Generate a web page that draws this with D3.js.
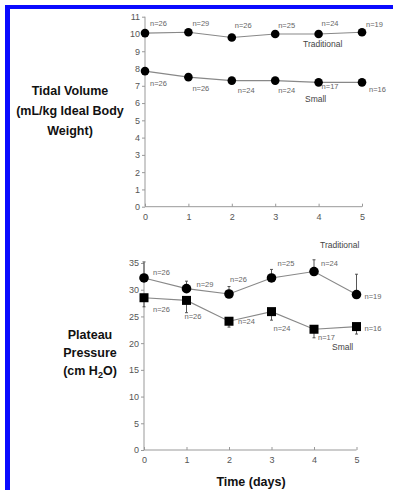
<!DOCTYPE html>
<html>
<head>
<meta charset="utf-8">
<script src="https://cdn.jsdelivr.net/npm/d3@7"></script>
<style>
  body { margin: 0; background: #fff; }
  svg { display: block; font-family: Arial, "Liberation Sans", sans-serif; }
  .tick text { fill: #555; font-size: 9px; }
  .axis path, .axis line { stroke: #999; }
  .series { fill: none; stroke: #888; stroke-width: 1.1; }
  .nlab { fill: #666; font-size: 7.5px; }
  .grp { fill: #444; font-size: 8.5px; }
  .title { fill: #111; font-size: 12.5px; font-weight: bold; }
</style>
</head>
<body>
<div id="chart"></div>
<script>
// --- data ---
const days = [0, 1, 2, 3, 4, 5];

const tvTraditional = [10.05, 10.1, 9.8, 10.0, 10.0, 10.1];
const tvSmall = [7.85, 7.5, 7.3, 7.3, 7.2, 7.2];

const ppTraditional = [32.2, 30.2, 29.2, 32.2, 33.4, 29.1];
const ppTraditionalErr = [3.0, 1.4, 1.4, 1.6, 2.2, 3.8];
const ppSmall = [28.5, 28.0, 24.1, 25.9, 22.6, 23.1];
const ppSmallErr = [1.7, 2.3, 1.1, 1.6, 1.6, 1.4];

const nTraditional = ["n=26", "n=29", "n=26", "n=25", "n=24", "n=19"];
const nSmall = ["n=26", "n=26", "n=24", "n=24", "n=17", "n=16"];

const tvTicks = [0, 1, 2, 3, 4, 5, 6, 7, 8, 9, 10, 11];
const ppTicks = [0, 5, 10, 15, 20, 25, 30, 35];

// label nudges [dx, dy] relative to each point
const tvTradOff = [[5, -10], [4, -9], [3, -12], [3, -9], [3, -11], [4, -8]];
const tvSmallOff = [[5, 12], [4, 11], [6, 10], [3, 10], [3, 4], [7, 7]];
const ppTradOff = [[9, -6], [10, -4], [1, -15], [6, -15], [7, -8], [8, 2]];
const ppSmallOff = [[9, 12], [-2, 16], [9, 0], [2, 17], [4, 8], [8, 2]];

const W = 393, H = 491;

const svg = d3.select("#chart").append("svg")
  .attr("width", W)
  .attr("height", H);

// blue frame (top + left)
svg.append("rect").attr("x", 5).attr("y", 5).attr("width", W - 5).attr("height", 4).attr("fill", "#0a0aff");
svg.append("rect").attr("x", 5).attr("y", 5).attr("width", 5).attr("height", 485).attr("fill", "#0a0aff");

function panel(opt) {
  const x = d3.scaleLinear().domain([0, 5]).range(opt.xr);
  const y = d3.scaleLinear().domain(opt.yd).range(opt.yr);
  const g = svg.append("g");

  g.append("g")
    .attr("class", "axis")
    .attr("transform", `translate(0,${opt.yr[0]})`)
    .call(d3.axisBottom(x).tickValues(days).tickFormat(d3.format("d")).tickSize(-3).tickPadding(7))
    .call(a => a.select(".domain").attr("d", `M${opt.xr[0]},0H${opt.xr[1]}`));

  g.append("g")
    .attr("class", "axis")
    .attr("transform", `translate(${opt.xr[0]},0)`)
    .call(d3.axisLeft(y).tickValues(opt.ticks).tickFormat(d3.format("d")).tickSize(3).tickPadding(2))
    .call(a => a.select(".domain").attr("d", `M0,${opt.yr[0]}V${opt.yr[1]}`));

  const line = d3.line().x((d, i) => x(days[i])).y(d => y(d));

  opt.series.forEach(s => {
    if (s.err) {
      g.selectAll(null).data(s.vals).enter().append("line")
        .attr("x1", (d, i) => x(days[i])).attr("x2", (d, i) => x(days[i]))
        .attr("y1", d => y(d))
        .attr("y2", (d, i) => y(d + s.dir * s.err[i]))
        .attr("stroke", "#444").attr("stroke-width", 0.9);
      g.selectAll(null).data(s.vals).enter().append("line")
        .attr("x1", (d, i) => x(days[i]) - 1.5).attr("x2", (d, i) => x(days[i]) + 1.5)
        .attr("y1", (d, i) => y(d + s.dir * s.err[i]))
        .attr("y2", (d, i) => y(d + s.dir * s.err[i]))
        .attr("stroke", "#444").attr("stroke-width", 0.9);
    }

    g.append("path").datum(s.vals).attr("class", "series").attr("d", line);

    if (s.shape === "square") {
      g.selectAll(null).data(s.vals).enter().append("rect")
        .attr("x", (d, i) => x(days[i]) - 4.5)
        .attr("y", d => y(d) - 4.5)
        .attr("width", 9).attr("height", 9)
        .attr("fill", "#000");
    } else {
      g.selectAll(null).data(s.vals).enter().append("circle")
        .attr("cx", (d, i) => x(days[i]))
        .attr("cy", d => y(d))
        .attr("r", s.r)
        .attr("fill", "#000");
    }

    g.selectAll(null).data(s.vals).enter().append("text")
      .attr("class", "nlab")
      .attr("x", (d, i) => x(days[i]) + s.off[i][0])
      .attr("y", (d, i) => y(d) + s.off[i][1])
      .attr("dy", "0.35em")
      .text((d, i) => s.n[i]);

    g.append("text").attr("class", "grp")
      .attr("x", s.name.x).attr("y", s.name.y)
      .attr("dy", "0.35em")
      .text(s.name.t);
  });

  g.selectAll(null).data(opt.title).enter().append("text")
    .attr("class", "title")
    .attr("text-anchor", "middle")
    .attr("x", opt.tx)
    .attr("y", (d, i) => opt.ty + i * opt.tdy)
    .attr("dy", "0.35em")
    .each(function (d) {
      const t = d3.select(this);
      d.forEach(p => {
        const ts = t.append("tspan").text(p.t);
        if (p.sub) ts.attr("font-size", "9px").attr("dy", "3");
        if (p.after) ts.attr("dy", "-3");
      });
    });

  return { x, y, g };
}

panel({
  xr: [145, 362], yd: [0, 11], yr: [206.7, 16.7], ticks: tvTicks,
  series: [
    { vals: tvTraditional, r: 4.3, n: nTraditional, off: tvTradOff,
      name: { t: "Traditional", x: 303, y: 44 } },
    { vals: tvSmall, r: 4.3, n: nSmall, off: tvSmallOff,
      name: { t: "Small", x: 305, y: 99 } }
  ],
  title: [[{ t: "Tidal Volume" }], [{ t: "(mL/kg Ideal Body" }], [{ t: "Weight)" }]],
  tx: 70, ty: 91, tdy: 20
});

const bot = panel({
  xr: [144, 356.5], yd: [0, 35], yr: [450, 263], ticks: ppTicks,
  series: [
    { vals: ppTraditional, err: ppTraditionalErr, dir: 1, r: 4.8, n: nTraditional, off: ppTradOff,
      name: { t: "Traditional", x: 320, y: 245 } },
    { vals: ppSmall, err: ppSmallErr, dir: -1, shape: "square", n: nSmall, off: ppSmallOff,
      name: { t: "Small", x: 332, y: 347 } }
  ],
  title: [[{ t: "Plateau" }], [{ t: "Pressure" }], [{ t: "(cm H" }, { t: "2", sub: true }, { t: "O)", after: true }]],
  tx: 90, ty: 335, tdy: 18
});

bot.g.append("text").attr("class", "title")
  .attr("x", 251).attr("y", 482).attr("dy", "0.35em")
  .attr("text-anchor", "middle")
  .text("Time (days)");
</script>
</body>
</html>
